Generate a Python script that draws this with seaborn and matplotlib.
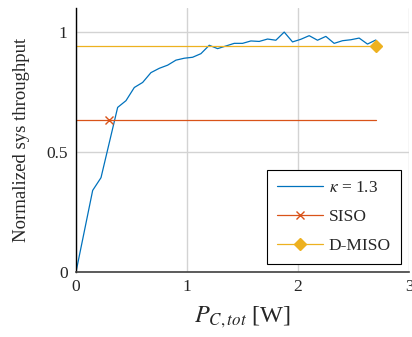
import numpy as np
import pandas as pd
import matplotlib
matplotlib.use('Agg')
import matplotlib.pyplot as plt
import seaborn as sns
from matplotlib.lines import Line2D

# datos
p_tot = [0.0, 0.15, 0.225, 0.375, 0.45, 0.525, 0.6, 0.675, 0.75, 0.825, 0.9,
         0.975, 1.05, 1.125, 1.2, 1.275, 1.35, 1.425, 1.5, 1.575, 1.65, 1.725,
         1.8, 1.875, 1.95, 2.025, 2.1, 2.175, 2.25, 2.325, 2.4, 2.475, 2.55,
         2.625, 2.7]
thr_kappa = [0.0, 0.34, 0.393, 0.686, 0.714, 0.769, 0.79, 0.831, 0.849, 0.862,
             0.883, 0.891, 0.895, 0.91, 0.945, 0.931, 0.942, 0.953, 0.953,
             0.963, 0.961, 0.971, 0.966, 1.0, 0.959, 0.97, 0.985, 0.966, 0.982,
             0.953, 0.964, 0.968, 0.975, 0.95, 0.967]
siso_x = [0.0, 2.7]
siso_y = [0.635, 0.635]
siso_mark = (0.3, 0.635)
dmiso_x = [0.0, 2.7]
dmiso_y = [0.94, 0.94]
dmiso_mark = (2.7, 0.94)

c_blue = '#0072BD'
c_red = '#D95319'
c_yel = '#EDB120'

sns.set_style('white')
plt.rcParams['font.family'] = ['Liberation Serif', 'DejaVu Serif']
plt.rcParams['mathtext.fontset'] = 'stix'

fig = plt.figure(figsize=(4.12, 3.37), dpi=100)
ax = fig.add_axes([0.1845, 0.193, 0.8085, 0.783])

df = pd.DataFrame({'p': p_tot, 'thr': thr_kappa})
sns.lineplot(data=df, x='p', y='thr', ax=ax, color=c_blue, lw=0.9)
sns.lineplot(x=siso_x, y=siso_y, ax=ax, color=c_red, lw=0.9)
sns.lineplot(x=dmiso_x, y=dmiso_y, ax=ax, color=c_yel, lw=0.9)
ax.plot(*siso_mark, marker='x', color=c_red, ms=6, mew=1.0)
ax.plot(*dmiso_mark, marker='D', color=c_yel, ms=6)

ax.set_xlim(0, 3)
ax.set_ylim(0, 1.1)
ax.set_xticks([0, 1, 2, 3])
ax.set_yticks([0, 0.5, 1])
ax.set_yticklabels(['0', '0.5', '1'])
ax.grid(True, color='#d3d3d3', lw=1)
ax.set_axisbelow(True)
for s in ['top', 'right']:
    ax.spines[s].set_visible(False)
ax.spines['left'].set_color('black')
ax.spines['bottom'].set_color('#404040')
ax.spines['left'].set_linewidth(1.0)
ax.spines['bottom'].set_linewidth(1.2)
ax.tick_params(direction='in', length=4, color='#b0b0b0', labelsize=12.5)
ax.tick_params(axis='y', pad=6)
ax.tick_params(axis='x', pad=5)

ax.set_xlabel(r'$P_{C,tot}$ [W]', fontsize=17.5, labelpad=7)
ax.set_ylabel('Normalized sys throughput', fontsize=13.5, labelpad=12)

handles = [
    Line2D([], [], color=c_blue, lw=0.9),
    Line2D([], [], color=c_red, lw=0.9, marker='x', ms=6),
    Line2D([], [], color=c_yel, lw=0.9, marker='D', ms=6),
]
leg = ax.legend(handles, [r'$\kappa$ = 1.3', 'SISO', 'D-MISO'],
                loc='lower right', bbox_to_anchor=(0.976, 0.03),
                borderaxespad=0, fontsize=12.5, handlelength=2.6,
                fancybox=False, framealpha=1, edgecolor='black',
                borderpad=0.6, labelspacing=0.72, handletextpad=0.35)
leg.get_frame().set_linewidth(0.8)

plt.savefig('out.png', dpi=100)
